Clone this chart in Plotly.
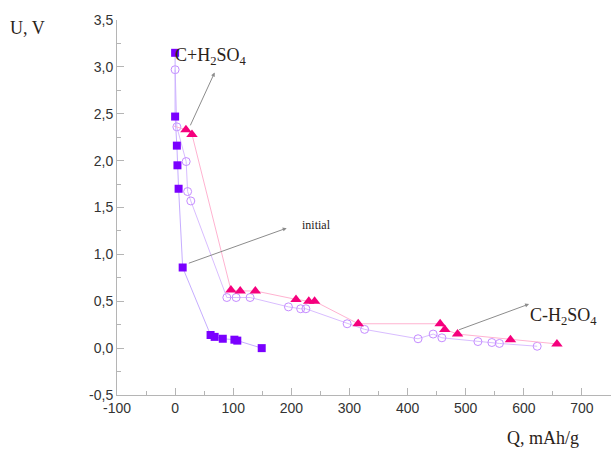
import plotly.graph_objects as go

# Data
sq_x = [0, 0, 3, 4, 6, 13, 61, 68, 82, 102, 107, 149]
sq_y = [3.15, 2.47, 2.16, 1.95, 1.70, 0.86, 0.14, 0.12, 0.10, 0.09, 0.08, 0.0]

circ_x = [0, 3, 19, 21.5, 27, 89, 105, 129, 195, 216, 225, 296, 326, 418, 444, 459, 521, 545, 558, 623]
circ_y = [2.97, 2.36, 1.99, 1.67, 1.57, 0.54, 0.54, 0.54, 0.44, 0.42, 0.42, 0.26, 0.20, 0.10, 0.15, 0.11, 0.07, 0.06, 0.05, 0.02]

tri_x = [-3, 18.6, 29, 96, 112, 138, 208, 230, 240, 315, 456, 464, 486, 577, 657]
tri_y = [2.37, 2.33, 2.28, 0.62, 0.61, 0.61, 0.52, 0.50, 0.50, 0.26, 0.26, 0.20, 0.15, 0.09, 0.045]

x_ticks = [-100, 0, 100, 200, 300, 400, 500, 600, 700]
x_ticktext = ["-100", "0", "100", "200", "300", "400", "500", "600", "700"]
y_ticks = [-0.5, 0.0, 0.5, 1.0, 1.5, 2.0, 2.5, 3.0, 3.5]
y_ticktext = ["-0,5", "0,0", "0,5", "1,0", "1,5", "2,0", "2,5", "3,0", "3,5"]

fig = go.Figure()

fig.add_trace(go.Scatter(
    x=circ_x, y=circ_y, mode="lines+markers",
    line=dict(color="#d9bdff", width=1),
    marker=dict(symbol="circle-open", size=8, color="#c58cff", line=dict(width=1)),
    showlegend=False))

# pink line through all points; triangles drawn from the second point on
fig.add_trace(go.Scatter(
    x=tri_x, y=tri_y, mode="lines",
    line=dict(color="#ffb3d1", width=1),
    showlegend=False))
fig.add_trace(go.Scatter(
    x=tri_x[1:], y=tri_y[1:], mode="markers",
    marker=dict(symbol="triangle-up", size=10, color="#f5007d"),
    showlegend=False))

fig.add_trace(go.Scatter(
    x=sq_x, y=sq_y, mode="lines+markers",
    line=dict(color="#c6adff", width=1),
    marker=dict(symbol="square", size=8, color="#7a00ff"),
    showlegend=False))

serif = "Liberation Serif, Times New Roman, serif"
txtcol = "#2a2218"

annotations = [
    dict(text="U, V", xref="paper", yref="paper", x=-0.221, y=0.979,
         xanchor="left", yanchor="middle", showarrow=False,
         font=dict(family=serif, size=18, color=txtcol)),
    dict(text="Q, mAh/g", xref="paper", yref="paper", x=0.785, y=-0.115,
         xanchor="left", yanchor="middle", showarrow=False,
         font=dict(family=serif, size=18, color=txtcol)),
    dict(text="C+H<sub>2</sub>SO<sub>4</sub>", xref="x", yref="y", x=-3, y=3.11,
         xanchor="left", yanchor="middle", showarrow=False,
         font=dict(family=serif, size=18, color=txtcol)),
    dict(text="C-H<sub>2</sub>SO<sub>4</sub>", xref="x", yref="y", x=608, y=0.34,
         xanchor="left", yanchor="middle", showarrow=False,
         font=dict(family=serif, size=18, color=txtcol)),
    dict(text="initial", xref="x", yref="y", x=215, y=1.31,
         xanchor="left", yanchor="middle", showarrow=False,
         font=dict(family=serif, size=12, color=txtcol)),
    # arrows
    dict(text="", xref="x", yref="y", x=68, y=2.94, axref="x", ayref="y", ax=25, ay=2.36,
         showarrow=True, arrowhead=2, arrowsize=0.8, arrowwidth=1, arrowcolor="#8c8c8c"),
    dict(text="", xref="x", yref="y", x=192, y=1.28, axref="x", ayref="y", ax=21, ay=0.90,
         showarrow=True, arrowhead=2, arrowsize=0.8, arrowwidth=1, arrowcolor="#8c8c8c"),
    dict(text="", xref="x", yref="y", x=609, y=0.47, axref="x", ayref="y", ax=486, ay=0.19,
         showarrow=True, arrowhead=2, arrowsize=0.8, arrowwidth=1, arrowcolor="#8c8c8c"),
]

axis_common = dict(showgrid=False, zeroline=False, showline=True, linecolor="#b5b5b5",
                   linewidth=1, ticks="inside", ticklen=7, tickcolor="#b5b5b5",
                   tickfont=dict(family="Liberation Sans, Arial, sans-serif", size=14, color="#333333"))

fig.update_layout(
    width=611, height=450,
    margin=dict(l=117, r=0, t=20, b=55),
    paper_bgcolor="white", plot_bgcolor="white",
    annotations=annotations,
    xaxis=dict(range=[-100, 750], tickvals=x_ticks, ticktext=x_ticktext,
               minor=dict(ticks="inside", ticklen=4, dtick=50, tick0=-100, tickcolor="#b5b5b5"),
               **axis_common),
    yaxis=dict(range=[-0.5, 3.5], tickvals=y_ticks, ticktext=y_ticktext,
               minor=dict(ticks="inside", ticklen=4, dtick=0.25, tick0=-0.5, tickcolor="#b5b5b5"),
               **axis_common),
)

fig.write_html("out.html")
